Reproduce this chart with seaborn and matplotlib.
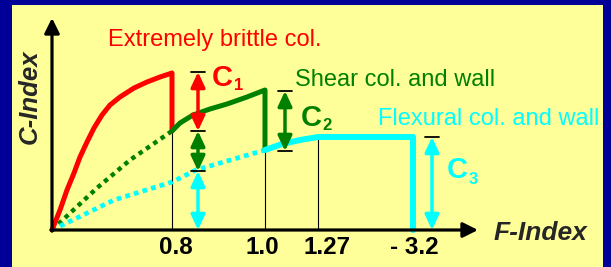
import matplotlib
matplotlib.use("Agg")
import matplotlib.pyplot as plt
from matplotlib.patches import Rectangle, ArrowStyle
import seaborn as sns

sns.set_style("white")
plt.rcParams["font.family"] = ["Liberation Sans", "DejaVu Sans"]

# -----------------------------
# Data (schematic units, origin at the axes corner)
# -----------------------------
f_ticks = [120, 213, 266, 361]
f_labels = ["0.8", "1.0", "1.27", "- 3.2"]
f_label_x = [124, 210, 275, 362]

brittle_x = [0, 8, 15, 22, 28, 35, 42, 50, 58, 68, 82, 95, 108, 120, 120]
brittle_y = [0, 20, 40, 57, 73, 88, 102, 115, 125, 133, 142, 148, 153, 157, 99]

shear_dot_x = [0, 45, 78, 120]
shear_dot_y = [0, 42, 70, 99]
shear_x = [120, 128, 141, 158, 175, 195, 213, 213]
shear_y = [99, 107, 115, 121, 126, 133, 140, 80]

flex_dot_x = [0, 62, 120, 144, 213]
flex_dot_y = [0, 30, 48, 60, 80]
flex_x = [213, 230, 248, 266, 361, 361]
flex_y = [80, 86, 90, 93, 93, 0]

guide_top = [99, 80, 93]

arrow_x = [146, 146, 146, 233, 380]
arrow_lo = [99, 59, 0, 79, 0]
arrow_hi = [158, 99, 59, 139, 93]

RED = "#FF0000"
GREEN = "#008000"
CYAN = "#00FFFF"
arrow_col = [RED, GREEN, CYAN, GREEN, CYAN]

cap_x = [146, 146, 146, 233, 233, 380]
cap_y = [158, 99, 59, 139, 79, 93]

# -----------------------------
# Figure
# -----------------------------
fig = plt.figure(figsize=(6.11, 2.67), dpi=100, facecolor="#000099")
fig.add_artist(Rectangle((12 / 611, 0), 591 / 611, 262 / 267,
                         transform=fig.transFigure, facecolor="#FFFF99",
                         edgecolor="none", zorder=0))
ax = fig.add_axes([0, 0, 1, 1])
ax.set_facecolor("none")
ax.set_xlim(-52, 559)
ax.set_ylim(-37, 230)
ax.axis("off")

# thin guide lines
for x, top in zip(f_ticks[:3], guide_top):
    ax.plot([x, x], [0, top], color="black", lw=0.8, zorder=1)

# curves
sns.lineplot(x=shear_dot_x, y=shear_dot_y, sort=False, estimator=None, ax=ax,
             color=GREEN, lw=3.2, ls=(0, (1, 1)), zorder=2)
sns.lineplot(x=flex_dot_x, y=flex_dot_y, sort=False, estimator=None, ax=ax,
             color=CYAN, lw=3.4, ls=(0, (1, 0.9)), zorder=2)
sns.lineplot(x=brittle_x, y=brittle_y, sort=False, estimator=None, ax=ax,
             color=RED, lw=3.6, zorder=3)
sns.lineplot(x=shear_x, y=shear_y, sort=False, estimator=None, ax=ax,
             color=GREEN, lw=3.6, zorder=3)
sns.lineplot(x=flex_x, y=flex_y, sort=False, estimator=None, ax=ax,
             color=CYAN, lw=4.3, zorder=3)

# axes arrows
ax_style = ArrowStyle("-|>", head_length=0.9, head_width=0.45)
ax.annotate("", xy=(426, 0), xytext=(-1, 0),
            arrowprops=dict(arrowstyle=ax_style, color="black", lw=2.3,
                            mutation_scale=10, shrinkA=0, shrinkB=0), zorder=4)
ax.annotate("", xy=(0, 212), xytext=(0, -1),
            arrowprops=dict(arrowstyle=ax_style, color="black", lw=2.3,
                            mutation_scale=10, shrinkA=0, shrinkB=0), zorder=4)

# C arrows
dbl = ArrowStyle("<|-|>", head_length=0.9, head_width=0.42)
for x, lo, hi, c in zip(arrow_x, arrow_lo, arrow_hi, arrow_col):
    ax.annotate("", xy=(x, hi), xytext=(x, lo),
                arrowprops=dict(arrowstyle=dbl, color=c, lw=2.5,
                                mutation_scale=10, shrinkA=0, shrinkB=0),
                zorder=4)
for x, y in zip(cap_x, cap_y):
    ax.plot([x - 7, x + 7], [y, y], color="black", lw=1.3, zorder=5)

# tick labels
for x, lab in zip(f_label_x, f_labels):
    ax.text(x, -18, lab, ha="center", va="center", fontsize=17.5,
            fontweight="bold", color="black")

ax.text(488, -3, "F-Index", ha="center", va="center", fontsize=19,
        fontweight="bold", fontstyle="italic")
ax.text(-22, 133, "C-Index", ha="center", va="center", fontsize=18.5,
        fontweight="bold", fontstyle="italic", rotation=90)

# curve names
ax.text(163, 190, "Extremely brittle col.", ha="center", va="center",
        fontsize=17, color=RED)
ax.text(343, 150, "Shear col. and wall", ha="center", va="center",
        fontsize=17, color=GREEN)
ax.text(437, 111, "Flexural col. and wall", ha="center", va="center",
        fontsize=17, color=CYAN)

# C labels
for (cx, cy), (sx, sy), c, n in [((170, 152), (187, 145), RED, "1"),
                                 ((259, 112), (275, 105), GREEN, "2"),
                                 ((405, 60), (421, 51), CYAN, "3")]:
    ax.text(cx, cy, "C", ha="center", va="center", fontsize=21,
            fontweight="bold", color=c)
    ax.text(sx, sy, n, ha="center", va="center", fontsize=12,
            fontweight="bold", color=c)

fig.savefig("out.png", dpi=100, facecolor=fig.get_facecolor())
